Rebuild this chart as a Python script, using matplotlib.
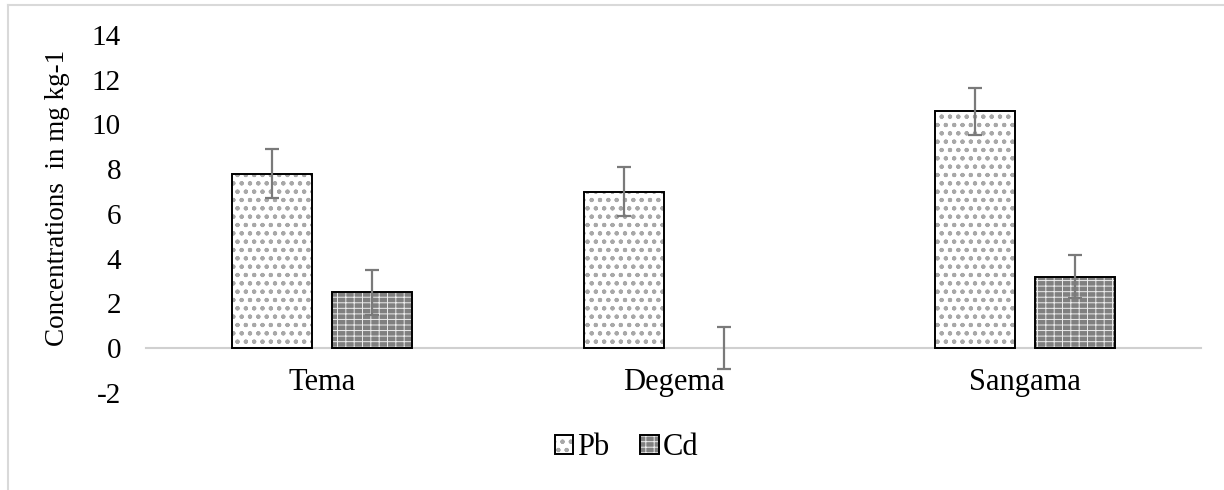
import numpy as np
import matplotlib
matplotlib.use("Agg")
import matplotlib.pyplot as plt
from matplotlib.patches import Patch
from matplotlib.lines import Line2D

plt.rcParams['font.family'] = ['Liberation Serif', 'DejaVu Serif']
plt.rcParams['axes.unicode_minus'] = False
plt.rcParams['hatch.linewidth'] = 0.7

# heavy metal concentrations per site (mg/kg)
sites = ['Tema', 'Degema', 'Sangama']
pb = [7.8, 7.0, 10.6]
pb_err = [1.1, 1.1, 1.05]
cd = [2.5, 0.0, 3.2]
cd_err = [1.0, 0.95, 0.95]

x = np.arange(len(sites))
w = 0.228
off = 0.142
PB_HATCH = 'oo..'
CD_HATCH = '++-'

fig = plt.figure(figsize=(12.24, 4.9), dpi=100)
ax = fig.add_axes([0.1193, 0.198, 0.862, 0.7306])

# no outline for empty bars
pb_lw = [1.4 if v > 0 else 0 for v in pb]
cd_lw = [1.4 if v > 0 else 0 for v in cd]

# Pb: white with grey circle/dot pattern
ax.bar(x - off, pb, w, color='white', edgecolor='#a8a8a8', hatch=PB_HATCH, linewidth=0, zorder=2)
ax.bar(x - off, pb, w, fill=False, edgecolor='black', linewidth=pb_lw, zorder=3)
# Cd: dark grey with white dashes
ax.bar(x + off, cd, w, color='#808080', edgecolor='#ececec', hatch=CD_HATCH, linewidth=0, zorder=2)
ax.bar(x + off, cd, w, fill=False, edgecolor='black', linewidth=cd_lw, zorder=3)

ekw = dict(fmt='none', ecolor='#7a7a7a', elinewidth=1.6, capsize=5, capthick=1.6, zorder=4)
ax.errorbar(x - off, pb, yerr=pb_err, **ekw)
ax.errorbar(x + off, cd, yerr=cd_err, **ekw)

ax.set_xlim(-0.5, 2.5)
ax.set_ylim(-2, 14)

for s in ['top', 'right', 'left']:
    ax.spines[s].set_visible(False)
ax.spines['bottom'].set_position(('data', 0))
ax.spines['bottom'].set_color('#d0d0d0')
ax.spines['bottom'].set_linewidth(1.5)

ax.set_yticks(np.arange(-2, 15, 2))
ax.set_xticks(x)
ax.set_xticklabels(sites)
ax.tick_params(axis='x', length=0, pad=14, labelsize=22)
ax.tick_params(axis='y', length=0, pad=18, labelsize=21)

ax.set_ylabel('Concentrations  in mg kg-1', fontsize=19.5)
ax.yaxis.set_label_coords(-0.072, 0.545)

# legend with hatched squares and black outlines
pb_h = (Patch(facecolor='white', edgecolor='#a8a8a8', hatch=PB_HATCH, linewidth=0),
        Patch(fill=False, edgecolor='black', linewidth=1.4))
cd_h = (Patch(facecolor='#808080', edgecolor='#ececec', hatch=CD_HATCH, linewidth=0),
        Patch(fill=False, edgecolor='black', linewidth=1.4))
fig.legend([pb_h, cd_h], ['Pb', 'Cd'], loc='center', bbox_to_anchor=(0.512, 0.086),
           ncol=2, frameon=False, fontsize=22, handlelength=0.6, handleheight=0.6,
           handletextpad=0.15, columnspacing=1.0)

# chart area border (top and left edges)
fig.add_artist(Line2D([0.0065, 1.0], [0.99, 0.99], color='#d9d9d9', lw=1.5))
fig.add_artist(Line2D([0.0065, 0.0065], [0.0, 0.99], color='#d9d9d9', lw=1.5))

fig.savefig('out.png', dpi=100)
